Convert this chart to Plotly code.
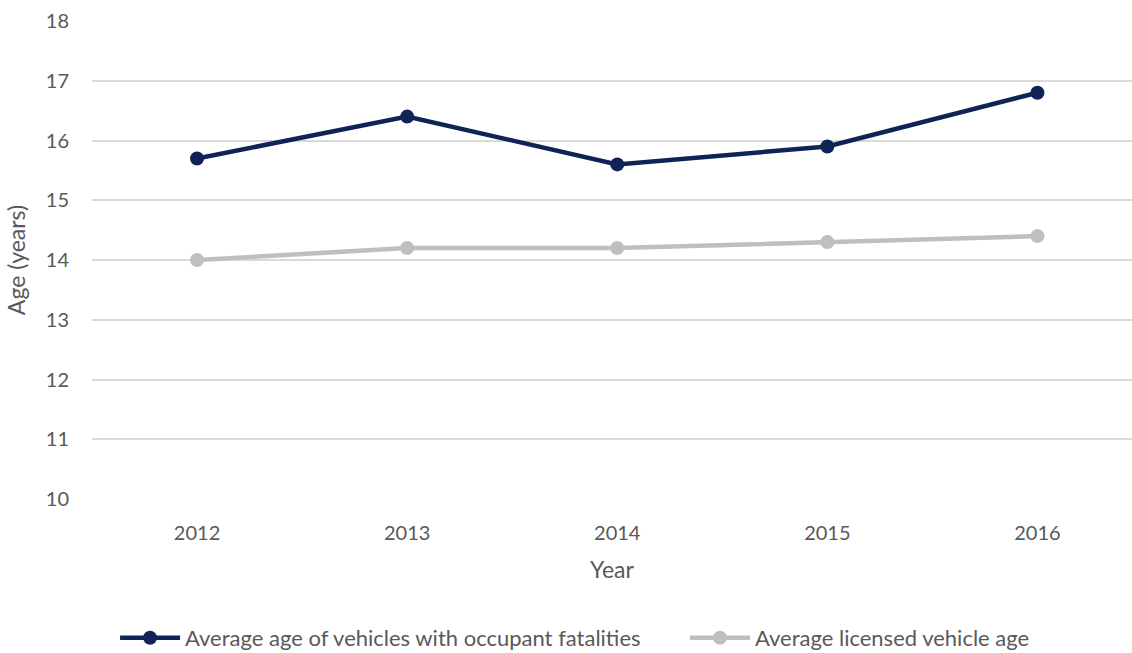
import plotly.graph_objects as go

years = ["2012", "2013", "2014", "2015", "2016"]
fatal_age = [15.7, 16.4, 15.6, 15.9, 16.8]
licensed_age = [14.0, 14.2, 14.2, 14.3, 14.4]
series_names = ["Average age of vehicles with occupant fatalities",
                "Average licensed vehicle age"]

FONT = "Lato"
TXT = "#595959"
PAD = "\u00a0" * 7

fig = go.Figure()
fig.add_trace(go.Scatter(
    x=years, y=fatal_age, mode="lines+markers",
    name=series_names[0] + PAD,
    line=dict(color="#0f2357", width=4.5),
    marker=dict(size=14, color="#0f2357"),
))
fig.add_trace(go.Scatter(
    x=years, y=licensed_age, mode="lines+markers",
    name=series_names[1],
    line=dict(color="#bfbfbf", width=4.5),
    marker=dict(size=14, color="#bfbfbf"),
))

fig.update_layout(
    width=1132, height=653,
    margin=dict(l=92, r=0, t=21, b=154),
    paper_bgcolor="white", plot_bgcolor="white",
    font=dict(family=FONT, color=TXT, size=20),
    showlegend=True,
    legend=dict(orientation="h", xref="container", yref="container",
                x=0.508, xanchor="center", y=0.023, yanchor="middle",
                font=dict(size=22, color=TXT), itemwidth=60),
    xaxis=dict(type="category", range=[-0.5, 4.45], showgrid=False,
               showline=False, zeroline=False, ticks="",
               tickfont=dict(size=20, color=TXT), ticklabelstandoff=20,
               title=dict(text="Year", font=dict(size=23, color=TXT), standoff=18)),
    yaxis=dict(range=[10, 18], dtick=1, showgrid=True, gridcolor="#d9d9d9",
               gridwidth=2, zeroline=False, showline=False, ticks="",
               tickfont=dict(size=20, color=TXT), ticklabelstandoff=22,
               title=dict(text="Age (years)", font=dict(size=23, color=TXT), standoff=13)),
)

fig.write_html("out.html")
